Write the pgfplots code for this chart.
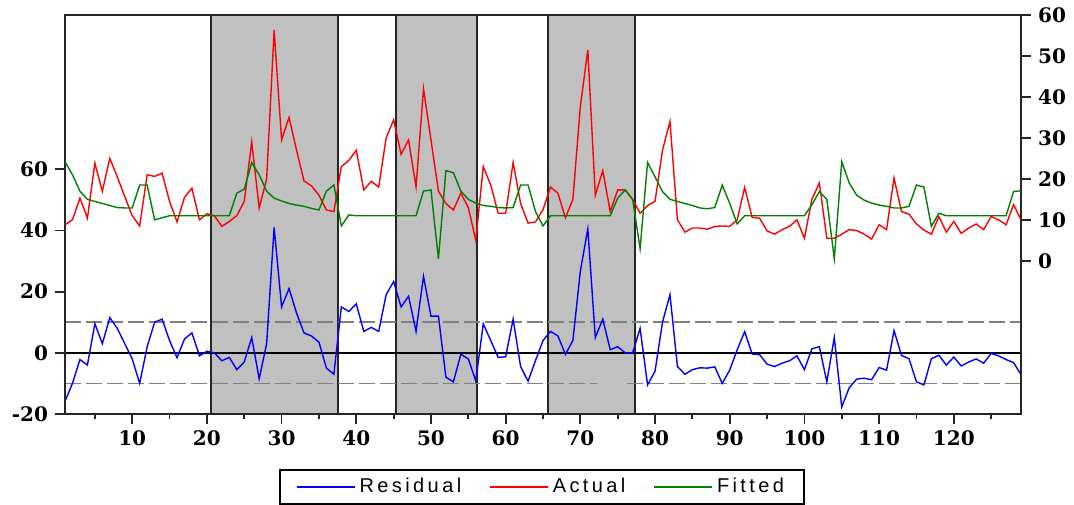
\documentclass[border=0pt]{standalone}
\usepackage{pgfplots}
\pgfplotsset{compat=1.18}
\usepackage{pgfplotstable}
\usepackage{fontspec}
\setmainfont{DejaVu Serif}
\newfontfamily\legfont[LetterSpace=17]{Liberation Sans}
\definecolor{evgray}{RGB}{192,192,192}
\definecolor{evgreen}{RGB}{0,128,0}
\definecolor{dashgray}{RGB}{128,128,128}

\pgfplotstableread{
x R A F
1 -15.8 8.8 24.2
2 -10 10 21
3 -2.2 15.3 17
4 -4 10.4 15
5 9.5 23.8 14.5
6 3 17 14
7 11.5 25 13.5
8 8 20.5 13
9 3 15.7 12.9
10 -2 11 12.9
11 -10 8.5 18.5
12 2 21 18.5
13 10 20.6 10
14 11 21.4 10.5
15 4 14.5 11
16 -1.6 9.5 11
17 4.5 15.5 11
18 6.5 17.7 11
19 -1 10 11
20 0.5 11.5 11
21 0 11 11
22 -2.6 8.4 11
23 -1.5 9.6 11
24 -5.5 11 16.5
25 -3 14.5 17.5
26 5 29 24
27 -8.5 12.9 21
28 3 20 17
29 41 56.3 15.3
30 15 29.5 14.6
31 21 35 14
32 13 27 13.6
33 6.5 19.5 13.3
34 5.5 18.3 12.8
35 3.5 16 12.4
36 -5 12.4 17
37 -7 12 18.5
38 15 23 8.5
39 13.5 24.5 11.2
40 16 27 11
41 7 17.3 11
42 8.3 19.4 11
43 7 18 11
44 19 30 11
45 23.3 34.4 11
46 15 26 11
47 18.5 29.5 11
48 7 18 11
49 25 42 17
50 12 29.5 17.3
51 12 17 0.5
52 -8 14 22
53 -9.5 12.4 21.5
54 -0.5 16.5 17
55 -2 13 15
56 -9.2 5 14.1
57 9.5 23 13.5
58 4 18.5 13.3
59 -1.5 11.6 13
60 -1.3 11.6 12.9
61 11 24 13
62 -4.5 14 18.5
63 -9.3 9.2 18.5
64 -2.5 9.5 12
65 4 12.5 8.5
66 7 18 11
67 5.5 16.5 11
68 -0.5 10.5 11
69 4 15 11
70 26.7 37.7 11
71 40.5 51.5 11
72 5 16 11
73 11 22 11
74 1 12 11
75 2 17.3 15.3
76 0 17.3 17.3
77 0 15 15
78 8 11.6 3
79 -10.5 13.5 24
80 -6 14.5 20.5
81 10 27 16.9
82 19 34 15
83 -4.5 10 14.5
84 -7 7 14
85 -5.5 8 13.5
86 -4.9 8 12.9
87 -5 7.7 12.7
88 -4.6 8.4 13
89 -10 8.5 18.5
90 -5.6 8.4 14
91 1 10 9
92 6.9 17.9 11
93 -0.4 10.6 11
94 -0.6 10.4 11
95 -3.7 7.3 11
96 -4.5 6.5 11
97 -3.4 7.6 11
98 -2.6 8.4 11
99 -1 10 11
100 -5.5 5.5 11
101 1.3 15 13.7
102 2 19 16.9
103 -9.5 5.5 15
104 5 5.5 0.5
105 -17.7 6.5 24.2
106 -11.4 7.6 19
107 -8.6 7.4 16
108 -8.3 6.5 14.8
109 -8.8 5.3 14.1
110 -4.8 8.8 13.6
111 -5.7 7.6 13.3
112 7.3 20.2 12.9
113 -0.9 12 12.9
114 -1.9 11.4 13.3
115 -9.5 9 18.5
116 -10.5 7.5 18
117 -1.9 6.5 8.4
118 -0.8 10.8 11.6
119 -4 7 11
120 -1.4 9.6 11
121 -4.3 6.7 11
122 -3 8 11
123 -2 9 11
124 -3.4 7.6 11
125 -0.2 10.8 11
126 -1 10 11
127 -2.2 8.8 11
128 -3.2 13.7 16.9
129 -7.1 10 17.1
}\datatable

\begin{document}
\begin{tikzpicture}
\useasboundingbox (-32.5pt,-45pt) rectangle (504.5pt,207pt);
\begin{axis}[
  at={(0pt,0pt)}, anchor=south west,
  scale only axis, width=478pt, height=199.5pt,
  xmin=1, xmax=129, ymin=-20, ymax=110.4,
  axis on top,
  axis line style={line width=0.9pt, black!85},
  xtick={10,20,...,120}, minor xtick={5,15,...,125},
  ytick={-20,0,20,40,60},
  xtick pos=bottom, ytick pos=left,
  tick align=outside,
  major tick length=5pt, minor tick length=2.5pt,
  every tick/.style={line width=0.9pt, black!85},
  ticklabel style={font=\bfseries\fontsize{10}{12}\selectfont},
  /pgf/number format/assume math mode=true,
]
\fill[evgray] (axis cs:20.6,-20) rectangle (axis cs:37.5,110.4);
\fill[evgray] (axis cs:45.3,-20) rectangle (axis cs:56.1,110.4);
\fill[evgray] (axis cs:65.7,-20) rectangle (axis cs:77.3,110.4);
\foreach \xe in {20.6,37.5,45.3,56.1,65.7,77.3}{
  \edef\tmp{\noexpand\draw[black!85, line width=1pt] (axis cs:\xe,-20) -- (axis cs:\xe,110.4);}\tmp
}
\draw[dashgray, line width=0.8pt, dash pattern=on 8pt off 2.5pt] (axis cs:1,10) -- (axis cs:129,10);
\draw[dashgray, line width=0.8pt, dash pattern=on 8pt off 2.5pt] (axis cs:1,-10) -- (axis cs:72.2,-10);
\draw[dashgray, line width=0.8pt, dash pattern=on 8pt off 2.5pt] (axis cs:76.2,-10) -- (axis cs:129,-10);
\draw[black, line width=0.8pt] (axis cs:1,0) -- (axis cs:129,0);
\addplot[blue, line width=0.7pt] table[x=x, y=R] {\datatable};
\end{axis}
\begin{axis}[
  at={(0pt,0pt)}, anchor=south west,
  scale only axis, width=478pt, height=199.5pt,
  xmin=1, xmax=129, ymin=-37.4, ymax=60,
  axis x line=none, axis y line*=right,
  axis line style={line width=0.9pt, black!85},
  ytick={0,10,...,60},
  tick align=outside,
  major tick length=5pt,
  every tick/.style={line width=0.9pt, black!85},
  ticklabel style={font=\bfseries\fontsize{10}{12}\selectfont},
  /pgf/number format/assume math mode=true,
  legend style={at={(0.499,-0.183)}, anchor=center, draw=black, line width=0.8pt,
    font=\legfont\fontsize{10}{12}\selectfont, inner xsep=8pt, inner ysep=2pt,
    /tikz/every even column/.append style={column sep=12pt}},
  legend columns=3,
  legend image code/.code={\draw[#1, line width=0.8pt] (0pt,0pt) -- (29pt,0pt);},
]
\addlegendimage{blue}
\addlegendentry{Residual}
\addplot[red, line width=0.7pt] table[x=x, y=A] {\datatable};
\addlegendentry{Actual}
\addplot[evgreen, line width=0.7pt] table[x=x, y=F] {\datatable};
\addlegendentry{Fitted}
\end{axis}
\end{tikzpicture}
\end{document}
